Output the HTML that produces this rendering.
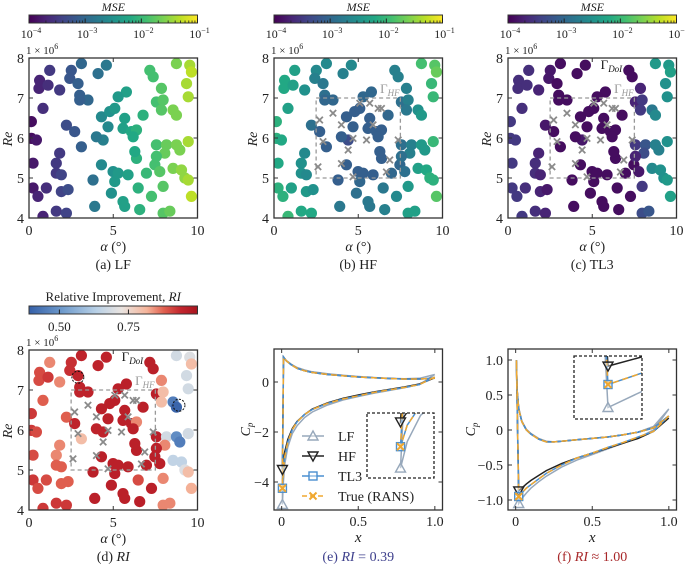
<!DOCTYPE html>
<html><head><meta charset="utf-8"><style>
body{margin:0;background:#fff}
svg{display:block}
svg text{font-family:"Liberation Serif","Times New Roman",serif}
</style></head><body>
<svg id="fig" width="685" height="564" viewBox="0 0 685 564" font-family="Liberation Serif, serif" xmlns="http://www.w3.org/2000/svg">
<defs>
<linearGradient id="viridis" x1="0" x2="1" y1="0" y2="0">
<stop offset="0" stop-color="#440154"/><stop offset="0.1" stop-color="#482475"/><stop offset="0.2" stop-color="#414487"/><stop offset="0.3" stop-color="#355f8d"/><stop offset="0.4" stop-color="#2a788e"/><stop offset="0.5" stop-color="#21918c"/><stop offset="0.6" stop-color="#22a884"/><stop offset="0.7" stop-color="#44bf70"/><stop offset="0.8" stop-color="#7ad151"/><stop offset="0.9" stop-color="#bddf26"/><stop offset="1" stop-color="#fde725"/>
</linearGradient>
<linearGradient id="rdbu" x1="0" x2="1" y1="0" y2="0">
<stop offset="0" stop-color="#3560a8"/><stop offset="0.2" stop-color="#6f9bcc"/><stop offset="0.4" stop-color="#b8d0e6"/><stop offset="0.55" stop-color="#eae4e0"/><stop offset="0.7" stop-color="#f5b49a"/><stop offset="0.8" stop-color="#e0604f"/><stop offset="0.9" stop-color="#c3262e"/><stop offset="1" stop-color="#a8141f"/>
</linearGradient>
</defs>
</svg>
<script>
// ---- scatter data ----
const alpha=[1.23,0.63,0.59,1.13,1.82,0.83,0.14,0.14,0.44,1.82,1.62,1.62,1.92,0.24,0.24,0.53,1.03,0.83,1.62,2.22,1.92,2.32,2.51,2.42,2.91,3.01,3.50,3.01,3.11,4.10,4.59,2.22,2.71,3.11,4.30,4.79,5.09,5.78,5.29,4.69,4.40,4.00,5.68,5.58,6.08,6.38,6.18,4.30,4.99,5.09,4.89,5.29,5.88,6.38,6.28,3.80,3.90,5.58,5.68,6.48,6.57,7.27,7.96,7.96,8.36,6.77,6.97,7.47,7.76,7.17,7.37,7.86,7.56,7.96,7.86,8.55,8.75,8.75,9.54,9.64,9.35,9.45,7.56,8.16,8.06,7.56,8.75,8.95,9.45,8.55,9.05,9.25,9.45,9.64];
const re=[7.69,7.44,7.24,7.32,7.20,6.74,6.41,5.99,5.95,5.62,5.37,5.12,5.08,5.37,4.75,4.54,4.75,4.04,4.17,4.12,4.66,4.71,7.69,7.49,7.36,7.07,6.95,6.95,7.86,7.61,7.82,6.32,6.16,5.78,6.53,6.66,6.74,7.15,7.03,6.28,5.95,6.03,6.49,6.24,6.16,6.20,6.03,5.33,5.16,4.91,4.62,5.12,5.08,5.49,5.66,4.95,4.29,4.41,4.29,4.75,4.21,4.54,4.79,4.12,4.17,6.57,5.12,5.33,5.16,7.69,7.53,7.24,6.90,6.95,6.70,6.70,6.57,7.86,7.82,7.65,7.36,7.03,5.83,5.83,5.62,5.54,5.83,5.70,5.91,5.24,5.20,5.00,4.95,4.54];
const logLF=[-3.5,-3.7,-3.7,-3.6,-3.5,-3.6,-3.9,-3.9,-3.8,-3.5,-3.5,-3.5,-3.4,-3.8,-3.8,-3.7,-3.6,-3.7,-3.5,-3.4,-3.4,-3.3,-3.2,-3.2,-3.1,-3.1,-3.0,-3.1,-3.0,-2.9,-2.8,-3.3,-3.2,-3.1,-2.6,-2.5,-2.4,-2.3,-2.4,-2.6,-2.7,-2.8,-2.3,-2.3,-2.2,-2.1,-2.2,-2.6,-2.5,-2.4,-2.5,-2.4,-2.3,-2.1,-2.2,-2.9,-2.8,-2.3,-2.3,-2.1,-2.1,-1.9,-1.8,-1.8,-1.7,-2.1,-2.0,-1.9,-1.8,-1.9,-1.9,-1.8,-1.9,-1.8,-1.8,-1.6,-1.6,-1.6,-1.4,-1.3,-1.4,-1.4,-1.9,-1.7,-1.7,-1.9,-1.6,-1.6,-1.4,-1.6,-1.5,-1.5,-1.4,-1.3];
const logHF=[-2.3,-2.2,-2.2,-2.3,-2.5,-2.3,-2.1,-2.1,-2.2,-2.6,-2.5,-2.5,-2.6,-2.2,-2.1,-2.1,-2.3,-2.0,-2.2,-2.2,-2.4,-2.5,-2.6,-2.7,-2.8,-2.9,-3.0,-3.0,-2.6,-2.7,-2.6,-2.9,-3.1,-3.1,-3.1,-3.1,-3.1,-3.0,-3.0,-3.1,-3.3,-3.1,-3.1,-3.1,-3.1,-3.1,-3.1,-3.1,-3.1,-3.0,-2.9,-3.1,-3.1,-3.1,-3.1,-3.1,-2.8,-2.8,-2.8,-2.8,-2.7,-2.6,-2.4,-2.3,-2.3,-3.0,-3.0,-3.0,-2.9,-2.7,-2.7,-2.7,-2.9,-2.7,-2.8,-2.5,-2.4,-1.9,-1.8,-1.7,-2.0,-2.0,-2.9,-2.7,-2.7,-2.9,-2.4,-2.4,-2.0,-2.3,-2.2,-2.1,-2.1,-1.8];
const logTL3=[-3.6,-3.6,-3.6,-3.6,-3.7,-3.6,-3.5,-3.5,-3.5,-3.7,-3.6,-3.6,-3.7,-3.5,-3.5,-3.5,-3.6,-3.5,-3.6,-3.7,-3.7,-3.8,-3.8,-3.8,-3.9,-3.9,-3.9,-3.9,-3.9,-3.9,-3.9,-3.8,-3.9,-3.9,-3.9,-3.9,-3.9,-3.9,-3.9,-3.9,-3.8,-3.9,-3.9,-3.9,-3.9,-3.9,-3.9,-3.9,-3.9,-3.9,-3.9,-3.9,-3.9,-3.9,-3.9,-3.9,-3.9,-3.9,-3.9,-3.9,-3.9,-3.9,-3.5,-3.3,-3.2,-3.9,-3.9,-3.9,-3.8,-3.9,-3.9,-3.7,-3.7,-3.5,-3.5,-2.8,-2.6,-2.4,-2.4,-2.3,-2.5,-2.5,-3.5,-3.2,-3.3,-3.7,-2.7,-2.7,-2.5,-2.6,-2.5,-2.5,-2.4,-2.3];
const ri=[0.85,0.9,0.9,0.92,0.85,0.88,0.92,0.92,0.9,0.85,0.85,0.88,0.88,0.9,0.92,0.9,0.9,0.92,0.92,0.92,0.88,0.88,0.93,0.93,0.95,0.95,0.95,0.95,0.95,0.95,0.95,0.88,0.95,0.8,0.96,0.96,0.96,0.96,0.96,0.96,0.95,0.95,0.96,0.96,0.96,0.85,0.96,0.96,0.96,0.96,0.96,0.96,0.96,0.96,0.96,0.96,0.96,0.96,0.96,0.9,0.96,0.96,0.85,0.85,0.85,0.96,0.96,0.96,0.96,0.96,0.96,0.85,0.96,0.8,0.8,0.45,0.4,0.68,0.7,0.8,0.68,0.68,0.96,0.68,0.85,0.96,0.48,0.45,0.68,0.65,0.65,0.7,0.8,0.82];
const hfA=[2.71,2.91,2.61,3.50,4.00,4.69,4.40,4.00,4.69,5.68,5.09,5.88,5.49,6.18,6.38,6.87,6.67,7.37];
const hfRe=[6.45,5.91,5.28,6.62,6.33,5.99,5.70,5.36,5.03,6.87,6.87,6.33,5.95,6.74,6.74,5.45,5.15,5.95];
const alphaTicks=[0,5,10], reTicks=[4,5,6,7,8];
const mseTicks=[-4,-3,-2,-1], riTicks=[0.50,0.75];
// ---- Cp data ----
const eUpX=[0.012,0.03,0.06,0.1,0.15,0.2,0.3,0.4,0.5,0.6,0.7,0.8,0.9,1.0];
const eUpTrue=[1.0,0.85,0.7,0.55,0.45,0.38,0.3,0.25,0.2,0.17,0.14,0.12,0.12,0.15];
const eUpLF=[0.98,0.86,0.72,0.58,0.48,0.41,0.33,0.27,0.22,0.18,0.15,0.13,0.15,0.3];
const eLoX=[0.005,0.01,0.02,0.04,0.07,0.1,0.15,0.2,0.3,0.4,0.5,0.6,0.7,0.8,0.9,1.0];
const eLoTrue=[-4.25,-3.6,-3.0,-2.4,-1.9,-1.6,-1.3,-1.1,-0.85,-0.68,-0.55,-0.42,-0.32,-0.22,-0.1,0.2];
const eLoHF=[-3.5,-3.2,-2.8,-2.3,-1.85,-1.58,-1.3,-1.08,-0.83,-0.65,-0.52,-0.4,-0.3,-0.2,-0.08,0.17];
const eLoLF=[-4.9,-4.1,-3.3,-2.6,-2.05,-1.75,-1.42,-1.2,-0.92,-0.72,-0.58,-0.45,-0.34,-0.23,-0.1,0.3];
const fUpX=[0.005,0.01,0.02,0.04,0.07,0.1,0.15,0.2,0.25,0.3,0.4,0.5,0.6,0.7,0.8,0.9,1.0];
const fUpTrue=[1.0,0.55,0.3,0.12,0.0,-0.06,-0.13,-0.17,-0.17,-0.16,-0.14,-0.12,-0.1,-0.07,-0.03,0.03,0.2];
const fUpLF=[0.98,0.57,0.32,0.13,0.01,-0.05,-0.12,-0.16,-0.17,-0.16,-0.14,-0.12,-0.1,-0.07,-0.03,0.05,0.3];
const fLoX=[0.02,0.04,0.07,0.1,0.15,0.2,0.3,0.4,0.5,0.6,0.7,0.8,0.9,1.0];
const fLoTrue=[-0.95,-0.9,-0.83,-0.78,-0.7,-0.62,-0.5,-0.4,-0.33,-0.25,-0.18,-0.1,-0.02,0.2];
const fLoHF=[-0.87,-0.83,-0.77,-0.72,-0.65,-0.58,-0.48,-0.4,-0.33,-0.26,-0.19,-0.12,-0.02,0.17];
const fLoLF=[-1.05,-0.98,-0.9,-0.83,-0.74,-0.66,-0.53,-0.43,-0.35,-0.27,-0.19,-0.11,0.0,0.3];
const eYTicks=[0,-2,-4], fYTicks=[1.0,0.5,0,-0.5,-1.0], xTicks=[0,0.5,1.0];

const NS='http://www.w3.org/2000/svg';
const svg=document.getElementById('fig');
function el(tag,attrs,parent){const e=document.createElementNS(NS,tag);for(const k in attrs)e.setAttribute(k,attrs[k]);(parent||svg).appendChild(e);return e;}
function txt(s,x,y,size,anchor,parent,extra){const t=el('text',Object.assign({x:x,y:y,'font-size':size,'text-anchor':anchor||'middle','fill':'#222','font-family':'Liberation Serif, serif'},extra||{}),parent);t.innerHTML=s;return t;}
function lerpHex(a,b,t){const pa=[1,3,5].map(i=>parseInt(a.substr(i,2),16)),pb=[1,3,5].map(i=>parseInt(b.substr(i,2),16));return 'rgb('+pa.map((v,i)=>Math.round(v+(pb[i]-v)*t)).join(',')+')';}
function cmap(stops,t){t=Math.max(0,Math.min(1,t));for(let i=1;i<stops.length;i++){if(t<=stops[i][0]){const s=stops[i-1],e=stops[i];return lerpHex(s[1],e[1],(t-s[0])/(e[0]-s[0]));}}return stops[stops.length-1][1];}
const VIR=[[0,'#440154'],[0.1,'#482475'],[0.2,'#414487'],[0.3,'#355f8d'],[0.4,'#2a788e'],[0.5,'#21918c'],[0.6,'#22a884'],[0.7,'#44bf70'],[0.8,'#7ad151'],[0.9,'#bddf26'],[1,'#fde725']];
const RB=[[0,'#3560a8'],[0.2,'#6f9bcc'],[0.4,'#b8d0e6'],[0.55,'#eae4e0'],[0.7,'#f5b49a'],[0.8,'#e0604f'],[0.9,'#c3262e'],[1,'#a8141f']];
const W=168.5;

function scatterPanel(id,x0,y0,colors,opts){
  const g=el('g',{},svg);
  
  
  const H=160;
  const sx=a=>x0+a/10*W, sy=r=>y0+(8-r)/4*H;
  const cp=el('clipPath',{id:'clip-'+id},g);el('rect',{x:x0,y:y0,width:W,height:H},cp);
  const pts=el('g',{'clip-path':'url(#clip-'+id+')'},g);
  for(let i=0;i<alpha.length;i++){
    const c=el('circle',{cx:sx(alpha[i]),cy:sy(re[i]),r:5.6,fill:colors[i]},pts);
    
    
  }
  if(opts.box){
    const b=el('rect',{x:sx(2.5),y:sy(7),width:sx(7.5)-sx(2.5),height:sy(5)-sy(7),fill:'none',stroke:'#999','stroke-width':1.3,'stroke-dasharray':'4,3'},g);
    
    for(let i=0;i<hfA.length;i++){
      const x=sx(hfA[i]),y=sy(hfRe[i]);
      const m=el('path',{d:`M${x-3.2},${y-3.2}L${x+3.2},${y+3.2}M${x-3.2},${y+3.2}L${x+3.2},${y-3.2}`,stroke:'#8a8a8a','stroke-width':1.8},g);
      
    }
    const t=txt('Γ<tspan font-size="9" font-style="italic" dy="3">HF</tspan>',sx(6.3),sy(7)-5,13,'start',g,{fill:'#999'});
    
  }
  if(opts.doi){
    const t2=txt('Γ<tspan font-size="9" font-style="italic" dy="3">DoI</tspan>',sx(5.5),sy(7.72),13,'start',g,{fill:'#111'});
    
  }
  if(opts.ring){opts.ring.forEach(p=>{const c=el('circle',{cx:sx(p[0]),cy:sy(p[1]),r:6,fill:'none',stroke:'#111','stroke-width':1,'stroke-dasharray':'2,1.5'},g);});}
  const fr=el('rect',{x:x0,y:y0,width:W,height:H,fill:'none',stroke:'#333','stroke-width':1.3},g);
  
  alphaTicks.forEach(a=>{el('line',{x1:sx(a),x2:sx(a),y1:y0+H,y2:y0+H-4,stroke:'#333'},g);el('line',{x1:sx(a),x2:sx(a),y1:y0,y2:y0+4,stroke:'#333'},g);const t=txt(a,sx(a),y0+H+17,14,'middle',g);});
  reTicks.forEach(r=>{el('line',{x1:x0,x2:x0+4,y1:sy(r),y2:sy(r),stroke:'#333'},g);el('line',{x1:x0+W,x2:x0+W-4,y1:sy(r),y2:sy(r),stroke:'#333'},g);const t=txt(r,x0-5,sy(r)+5,14,'end',g);});
  const m=txt('1 × 10<tspan font-size="8" dy="-5">6</tspan>',x0-3,y0-4,11,'start',g);
  const xl=txt('<tspan font-style="italic">α</tspan> (°)',x0+W/2,y0+H+33,14,'middle',g);
  const yl=txt('Re',0,0,14,'middle',g,{'font-style':'italic',transform:`translate(${x0-17},${y0+H/2+1}) rotate(-90)`});
  const cap=txt(opts.caption,x0+W/2,y0+H+51,14,'middle',g);
}

function mseColorbar(x0){
  const g=el('g',{},svg);
  
  
  const y=15,h=8,sx=v=>x0+(v+4)/3*W;
  el('rect',{x:x0,y:y,width:W,height:h,fill:'url(#viridis)',stroke:'#333','stroke-width':1},g);
  for(let d=-4;d<-1;d++){for(let k=2;k<10;k++){const x=sx(d+Math.log10(k));el('line',{x1:x,x2:x,y1:y+h,y2:y+h-2.5,stroke:'#222','stroke-width':0.8},g);}}
  mseTicks.forEach(v=>{el('line',{x1:sx(v),x2:sx(v),y1:y+h,y2:y+h-4.5,stroke:'#222'},g);txt('10<tspan font-size="8" dy="-5">−'+(-v)+'</tspan>',sx(v)+2,y+h+15,12,'middle',g);});
  txt('MSE',x0+W/2,y-4,12,'middle',g,{'font-style':'italic'});
}

const vir=arr=>arr.map(v=>cmap(VIR,(v+4)/3));
scatterPanel('lf',29,58,vir(logLF),{caption:'(a) LF'});
scatterPanel('hf',274,58,vir(logHF),{caption:'(b) HF',box:true});
scatterPanel('tl3',508,58,vir(logTL3),{caption:'(c) TL3',box:true,doi:true});
scatterPanel('ri',29,350,ri.map(v=>cmap(RB,(v-0.39)/0.61)),{caption:'(d) <tspan font-style="italic">RI</tspan>',box:true,doi:true,ring:[[2.9,7.32],[8.9,6.62]]});
[29,274,508].forEach(mseColorbar);
(function(){
  const g=el('g',{},svg);
  
  
  const x0=29,y=306,h=8,sx=v=>x0+(v-0.39)/0.61*W;
  el('rect',{x:x0,y:y,width:W,height:h,fill:'url(#rdbu)',stroke:'#333','stroke-width':1},g);
  riTicks.forEach(v=>{el('line',{x1:sx(v),x2:sx(v),y1:y+h,y2:y+h-4.5,stroke:'#222'},g);txt(v.toFixed(2),sx(v),y+h+17,13,'middle',g);});
  txt('Relative Improvement, <tspan font-style="italic">RI</tspan>',x0+W/2,y-5,13,'middle',g);
})();

// ---- Cp panels ----
const COL={LF:'#97a8bb',HF:'#222',TL3:'#4a8fd0',True:'#f0a830'};
function marker(type,x,y,g){
  let m;
  if(type==='LF')m=el('path',{d:`M${x},${y-5}L${x+5},${y+4}L${x-5},${y+4}Z`,fill:'rgba(255,255,255,0.4)',stroke:COL.LF,'stroke-width':1.4},g);
  else if(type==='HF')m=el('path',{d:`M${x},${y+5}L${x+5},${y-4}L${x-5},${y-4}Z`,fill:'rgba(255,255,255,0.4)',stroke:COL.HF,'stroke-width':1.4},g);
  else if(type==='TL3')m=el('rect',{x:x-4,y:y-4,width:8,height:8,fill:'rgba(255,255,255,0.4)',stroke:COL.TL3,'stroke-width':1.4},g);
  else m=el('path',{d:`M${x-3.5},${y-3.5}L${x+3.5},${y+3.5}M${x-3.5},${y+3.5}L${x+3.5},${y-3.5}`,stroke:COL.True,'stroke-width':2},g);
  
  
}
function cpPanel(id,x0,y0,H,ymin,ymax,yt,fmt,series,inset,caption,capColor,ylOff){
  const g=el('g',{},svg);
  
  
  const sx=x=>x0+(x+0.05)/1.1*W, sy=v=>y0+(ymax-v)/(ymax-ymin)*H;
  const path=(xs,ys,fx,fy)=>xs.map((x,i)=>(i?'L':'M')+fx(x).toFixed(1)+','+fy(ys[i]).toFixed(1)).join('');
  function draw(fx,fy,parent,w){
    ['LF','HF','TL3','True'].forEach(k=>{
      const s=series[k];
      const xs=s.loX.slice().reverse().concat(s.upX), ys=s.lo.slice().reverse().concat(s.up);
      const p=el('path',{d:path(xs,ys,fx,fy),fill:'none',stroke:COL[k],'stroke-width':w,'stroke-dasharray':k==='True'?'6,4':'none'},parent);
      
      
    });
  }
  draw(sx,sy,g,1.5);
  ['LF','HF','TL3','True'].forEach(k=>marker(k,sx(series[k].loX[0]),sy(series[k].lo[0]),g));
  const ig=el('g',{},g);
  
  
  const ic=el('clipPath',{id:'ic-'+id},ig);el('rect',{x:inset.x,y:inset.y,width:inset.w,height:inset.h},ic);
  el('rect',{x:inset.x,y:inset.y,width:inset.w,height:inset.h,fill:'#fff'},ig);
  const fx=x=>inset.x+(x-inset.xr[0])/(inset.xr[1]-inset.xr[0])*inset.w, fy=v=>inset.y+(inset.yr[1]-v)/(inset.yr[1]-inset.yr[0])*inset.h;
  const cg=el('g',{'clip-path':'url(#ic-'+id+')'},ig);
  draw(fx,fy,cg,1.5);
  ['LF','HF','TL3','True'].forEach(k=>marker(k,fx(series[k].loX[0]),fy(series[k].lo[0]),cg));
  el('rect',{x:inset.x,y:inset.y,width:inset.w,height:inset.h,fill:'none',stroke:'#222','stroke-width':1.3,'stroke-dasharray':'3,2'},ig);
  el('rect',{x:x0,y:y0,width:W,height:H,fill:'none',stroke:'#333','stroke-width':1.3},g);
  xTicks.forEach(v=>{el('line',{x1:sx(v),x2:sx(v),y1:y0+H,y2:y0+H-4,stroke:'#333'},g);el('line',{x1:sx(v),x2:sx(v),y1:y0,y2:y0+4,stroke:'#333'},g);txt(v===0?'0':v.toFixed(1),sx(v),y0+H+16,14,'middle',g);});
  yt.forEach(v=>{el('line',{x1:x0,x2:x0+4,y1:sy(v),y2:sy(v),stroke:'#333'},g);el('line',{x1:x0+W,x2:x0+W-4,y1:sy(v),y2:sy(v),stroke:'#333'},g);const s=(v<0?'−':'')+fmt(Math.abs(v));txt(s,x0-5,sy(v)+5,14,'end',g);});
  txt('x',x0+W/2,y0+H+32,15,'middle',g,{'font-style':'italic'});
  const yl=txt('C<tspan font-size="9" dy="3">p</tspan>',0,0,14,'middle',g,{'font-style':'italic',transform:`translate(${x0-ylOff},${y0+H/2}) rotate(-90)`});
  
  const cap=txt(caption,x0+W/2,y0+H+51,14,'middle',g,{fill:capColor});
  
  return {g:g};
}
const eSeries={LF:{loX:eLoX,lo:eLoLF,upX:eUpX,up:eUpLF},HF:{loX:eLoX,lo:eLoHF,upX:eUpX,up:eUpTrue},TL3:{loX:eLoX,lo:eLoTrue,upX:eUpX,up:eUpTrue},True:{loX:eLoX,lo:eLoTrue,upX:eUpX,up:eUpTrue}};
const fSeries={LF:{loX:fLoX,lo:fLoLF,upX:fUpX,up:fUpLF},HF:{loX:fLoX,lo:fLoHF,upX:fUpX,up:fUpTrue},TL3:{loX:fLoX,lo:fLoTrue,upX:fUpX,up:fUpTrue},True:{loX:fLoX,lo:fLoTrue,upX:fUpX,up:fUpTrue}};
const pe=cpPanel('e',274,349,161,-5.12,1.32,eYTicks,v=>String(v),eSeries,{x:367,y:413,w:67,h:65,xr:[-0.02,0.03],yr:[-5.2,-3.23]},'(e) <tspan font-style="italic">RI</tspan> = 0.39','#3d3f8c',24);
cpPanel('f',508,349,161,-1.143,1.157,fYTicks,v=>v===0?'0':v.toFixed(1),fSeries,{x:574,y:356,w:68,h:63,xr:[0.0,0.04],yr:[-1.1,-0.826]},'(f) <tspan font-style="italic">RI</tspan> ≈ 1.00','#a8282a',33);
(function(){
  const g=el('g',{},pe.g);
  
  
  const items=[['LF','LF'],['HF','HF'],['TL3','TL3'],['True','True (RANS)']];
  items.forEach((it,i)=>{
    const y=436+i*20;
    const e=el('g',{},g);
    
    
    el('line',{x1:302,x2:324,y1:y,y2:y,stroke:COL[it[0]],'stroke-width':1.5,'stroke-dasharray':it[0]==='True'?'5,3':'none'},e);
    marker(it[0],313,y,e);
    txt(it[1],338,y+5,14,'start',e);
  });
})();
</script>
</body></html>
